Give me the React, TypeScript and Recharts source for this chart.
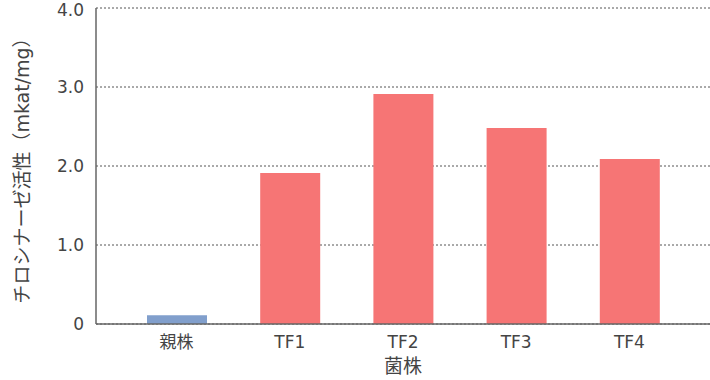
import { BarChart, Bar, XAxis, YAxis, CartesianGrid, Cell } from "recharts";

const strains = ["親株", "TF1", "TF2", "TF3", "TF4"];
const activity = [0.11, 1.91, 2.91, 2.48, 2.09];
const barColors = ["#819fcc", "#f67575", "#f67575", "#f67575", "#f67575"];
const yTicks = [0, 1, 2, 3, 4];

const data = strains.map((name, i) => ({ name, value: activity[i] }));

const font = "'DejaVu Sans', 'Noto Sans CJK JP', sans-serif";

export default function App() {
  return (
    <div style={{ position: "absolute", left: 0, top: 0 }}>
      <BarChart
        width={710}
        height={380}
        data={data}
        margin={{ top: 8, right: 0, bottom: 0, left: 0 }}
        style={{ fontFamily: font }}
      >
        <CartesianGrid
          vertical={false}
          stroke="#555"
          strokeDasharray="2 2"
        />
        <XAxis
          dataKey="name"
          height={56}
          padding={{ left: 24, right: 24 }}
          tickLine={false}
          tickMargin={6}
          axisLine={{ stroke: "#666", strokeWidth: 1.5 }}
          tick={{ fill: "#444", fontSize: 17 }}
          label={{
            value: "菌株",
            position: "insideBottom",
            offset: 7,
            fill: "#444",
            fontSize: 19,
          }}
        />
        <YAxis
          width={96}
          domain={[0, 4]}
          ticks={yTicks}
          tickLine={false}
          tickMargin={6}
          axisLine={{ stroke: "#666", strokeWidth: 1.5 }}
          tick={{ fill: "#444", fontSize: 17 }}
          tickFormatter={(v: number) => (v === 0 ? "0" : v.toFixed(1))}
          label={{
            value: "チロシナーゼ活性（mkat/mg）",
            angle: -90,
            position: "insideLeft",
            offset: 22,
            style: { textAnchor: "middle" },
            fill: "#444",
            fontSize: 19,
          }}
        />
        <Bar dataKey="value" barSize={60} isAnimationActive={false}>
          {data.map((d, i) => (
            <Cell key={d.name} fill={barColors[i]} />
          ))}
        </Bar>
      </BarChart>
    </div>
  );
}
